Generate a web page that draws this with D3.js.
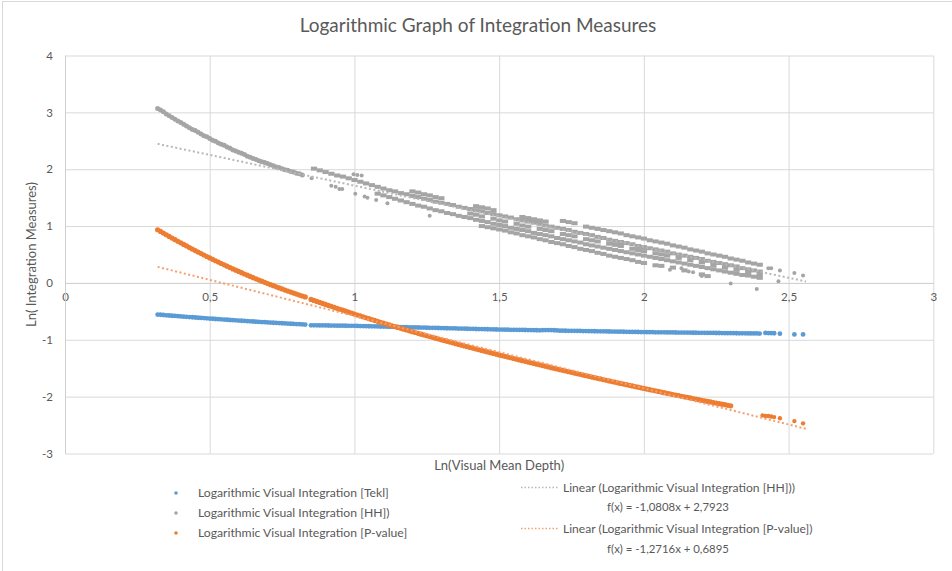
<!DOCTYPE html>
<html>
<head>
<meta charset="utf-8">
<script src="https://cdnjs.cloudflare.com/ajax/libs/d3/7.8.5/d3.min.js"></script>
<style>
body { margin: 0; background: #fff; }
text { font-family: Lato, "Open Sans", sans-serif; fill: #595959; }
</style>
</head>
<body>
<div id="scatter"></div>
<script>
// tick values
var xTicks = [0, 0.5, 1, 1.5, 2, 2.5, 3];
var yTicks = [-3, -2, -1, 0, 1, 2, 3, 4];

// Logarithmic Visual Integration [Tekl]  (blue)
var teklA = [[0.32,-0.556],[0.33,-0.560],[0.34,-0.564],[0.35,-0.569],[0.36,-0.573],[0.37,-0.577],[0.38,-0.581],[0.39,-0.585],[0.40,-0.589],[0.41,-0.593],[0.42,-0.597],[0.43,-0.600],[0.44,-0.604],[0.45,-0.608],[0.46,-0.612],[0.47,-0.616],[0.48,-0.619],[0.49,-0.623],[0.50,-0.627],[0.51,-0.630],[0.52,-0.634],[0.53,-0.638],[0.54,-0.641],[0.55,-0.645],[0.56,-0.648],[0.57,-0.652],[0.58,-0.655],[0.59,-0.658],[0.60,-0.662],[0.61,-0.665],[0.62,-0.668],[0.63,-0.672],[0.64,-0.675],[0.65,-0.678],[0.66,-0.681],[0.67,-0.685],[0.68,-0.688],[0.69,-0.691],[0.70,-0.694],[0.71,-0.697],[0.72,-0.700],[0.73,-0.703],[0.74,-0.706],[0.75,-0.709],[0.76,-0.712],[0.77,-0.715],[0.78,-0.718],[0.79,-0.721],[0.80,-0.723],[0.81,-0.726],[0.82,-0.729],[0.83,-0.732]];
var teklB = [[0.85,-0.745],[0.86,-0.746],[0.87,-0.746],[0.88,-0.747],[0.89,-0.748],[0.90,-0.748],[0.91,-0.749],[0.92,-0.750],[0.93,-0.750],[0.94,-0.751],[0.95,-0.752],[0.96,-0.752],[0.97,-0.753],[0.98,-0.754],[0.99,-0.754],[1.00,-0.755],
  [1.01,-0.756],[1.02,-0.758],[1.03,-0.759],[1.04,-0.760],[1.05,-0.762],[1.06,-0.763],[1.07,-0.764],[1.08,-0.765],[1.09,-0.767],[1.10,-0.768],[1.11,-0.769],[1.12,-0.771],[1.13,-0.772],[1.14,-0.773],[1.15,-0.775],[1.16,-0.776],[1.17,-0.777],[1.18,-0.778],[1.19,-0.780],[1.20,-0.781],
  [1.21,-0.782],[1.22,-0.784],[1.23,-0.785],[1.24,-0.786],[1.25,-0.788],[1.26,-0.789],[1.27,-0.790],[1.28,-0.791],[1.29,-0.793],[1.30,-0.794],[1.31,-0.795],[1.32,-0.797],[1.33,-0.798],[1.34,-0.799],[1.35,-0.801],[1.36,-0.802],[1.37,-0.803],[1.38,-0.804],[1.39,-0.806],[1.40,-0.807],
  [1.41,-0.808],[1.42,-0.810],[1.43,-0.811],[1.44,-0.812],[1.45,-0.814],[1.46,-0.815],[1.47,-0.816],[1.48,-0.817],[1.49,-0.819],[1.50,-0.820],[1.51,-0.821],[1.52,-0.822],[1.53,-0.823],[1.54,-0.824],[1.55,-0.825],[1.56,-0.825],[1.57,-0.826],[1.58,-0.827],[1.59,-0.828],[1.60,-0.829],
  [1.61,-0.830],[1.62,-0.831],[1.63,-0.832],[1.64,-0.833],[1.65,-0.831],[1.66,-0.830],[1.67,-0.829],[1.68,-0.830],[1.69,-0.832],[1.70,-0.835],[1.71,-0.839],[1.72,-0.840],[1.73,-0.841],[1.74,-0.842],[1.75,-0.843],[1.76,-0.843],[1.77,-0.844],[1.78,-0.845],[1.79,-0.846],[1.80,-0.847],
  [1.81,-0.848],[1.82,-0.849],[1.83,-0.850],[1.84,-0.851],[1.85,-0.852],[1.86,-0.852],[1.87,-0.853],[1.88,-0.854],[1.89,-0.855],[1.90,-0.856],[1.91,-0.857],[1.92,-0.858],[1.93,-0.859],[1.94,-0.860],[1.95,-0.861],[1.96,-0.861],[1.97,-0.862],[1.98,-0.863],[1.99,-0.864],[2.00,-0.865],
  [2.01,-0.866],[2.02,-0.866],[2.03,-0.867],[2.04,-0.868],[2.05,-0.868],[2.06,-0.869],[2.07,-0.869],[2.08,-0.870],[2.09,-0.871],[2.10,-0.871],[2.11,-0.872],[2.12,-0.873],[2.13,-0.873],[2.14,-0.874],[2.15,-0.874],[2.16,-0.875],[2.17,-0.876],[2.18,-0.876],[2.19,-0.877],[2.20,-0.878],
  [2.21,-0.878],[2.22,-0.879],[2.23,-0.879],[2.24,-0.880],[2.25,-0.881],[2.26,-0.881],[2.27,-0.882],[2.28,-0.883],[2.29,-0.883],[2.30,-0.884],[2.31,-0.884],[2.32,-0.885],[2.33,-0.886],[2.34,-0.886],[2.35,-0.887],[2.36,-0.888],[2.37,-0.888],[2.38,-0.889],[2.39,-0.889],[2.40,-0.890]];
var teklEnd = [[2.42,-0.880],[2.43,-0.882],[2.44,-0.884],[2.45,-0.885],[2.47,-0.893],[2.52,-0.905],[2.55,-0.905]];

// Logarithmic Visual Integration [HH]  (grey)
var hhA = [[0.32,3.07],[0.33,3.04],[0.34,3.01],[0.35,2.97],[0.36,2.94],[0.37,2.91],[0.38,2.88],[0.39,2.85],[0.40,2.82],[0.41,2.79],[0.42,2.76],[0.43,2.73],[0.44,2.70],[0.45,2.68],[0.46,2.65],[0.47,2.62],[0.48,2.59],[0.49,2.57],[0.50,2.54],[0.51,2.51],[0.52,2.49],[0.53,2.46],[0.54,2.44],[0.55,2.42],[0.56,2.39],[0.57,2.37],[0.58,2.34],[0.59,2.32],[0.60,2.30],[0.61,2.28],[0.62,2.26],[0.63,2.23],[0.64,2.21],[0.65,2.19],[0.66,2.17],[0.67,2.15],[0.68,2.13],[0.69,2.12],[0.70,2.10],[0.71,2.08],[0.72,2.06],[0.73,2.04],[0.74,2.03],[0.75,2.01],[0.76,1.99],[0.77,1.98],[0.78,1.96],[0.79,1.95],[0.80,1.93],[0.81,1.92],[0.82,1.90]];
var hhMain = [[0.86,2.01],[0.88,1.98],[0.90,1.95],[0.92,1.92],[0.94,1.89],[0.96,1.87],[0.98,1.84],[1.00,1.81],[1.02,1.78],[1.04,1.75],[1.06,1.72],[1.08,1.69],[1.10,1.66],[1.12,1.63],[1.14,1.61],[1.16,1.58],[1.18,1.56],[1.20,1.53],[1.22,1.51],[1.24,1.48],[1.26,1.46],[1.28,1.43],[1.30,1.41],[1.32,1.39],[1.34,1.37],[1.36,1.34],[1.38,1.32],[1.40,1.30],[1.42,1.28],[1.44,1.26],[1.46,1.23],[1.48,1.21],[1.50,1.19],[1.52,1.17],[1.54,1.15],[1.56,1.12],[1.58,1.10],[1.60,1.08],[1.62,1.06],[1.64,1.04],[1.66,1.01],[1.68,0.99],[1.70,0.97],[1.72,0.95],[1.74,0.93],[1.76,0.90],[1.78,0.88],[1.80,0.86],[1.82,0.84],[1.84,0.81],[1.86,0.79],[1.88,0.76],[1.90,0.74],[1.92,0.72],[1.94,0.70],[1.96,0.68],[1.98,0.65],[2.00,0.63],[2.02,0.61],[2.04,0.59],[2.06,0.57],[2.08,0.55],[2.10,0.52],[2.12,0.50],[2.14,0.48],[2.16,0.46],[2.18,0.44],[2.20,0.42],[2.22,0.39],[2.24,0.37],[2.26,0.35],[2.28,0.33],[2.30,0.31],[2.32,0.29],[2.34,0.26],[2.36,0.24],[2.38,0.22],[2.40,0.20]];
var hhUpper = [[1.20,1.61],[1.22,1.59],[1.24,1.56],[1.26,1.54],[1.28,1.51],[1.30,1.49],[1.42,1.35],[1.44,1.33],[1.46,1.31],[1.48,1.28],[1.58,1.16],[1.60,1.14],[1.62,1.12],[1.64,1.10],[1.66,1.08],[1.72,1.09],[1.74,1.07],[1.76,1.05],[1.80,0.99],[1.82,0.97],[1.84,0.95],[1.86,0.93],[1.88,0.91],[1.90,0.89],[1.92,0.87],[1.94,0.84],[1.96,0.82],[1.98,0.80],[2.00,0.78],[2.02,0.75],[2.04,0.73],[2.06,0.71],[2.08,0.69],[2.10,0.66],[2.12,0.64],[2.14,0.62],[2.16,0.59],[2.18,0.57],[2.20,0.55],[2.22,0.52],[2.24,0.50],[2.26,0.48],[2.28,0.46],[2.30,0.43],[2.32,0.41],[2.34,0.39],[2.36,0.36],[2.38,0.34],[2.40,0.32]];
var hhMid = [[1.40,1.22],[1.42,1.20],[1.44,1.17],[1.48,1.13],[1.50,1.10],[1.52,1.08],[1.56,1.04],[1.58,1.01],[1.60,0.99],[1.64,0.95],[1.66,0.93],[1.68,0.91],[1.72,0.86],[1.74,0.84],[1.76,0.82],[1.80,0.77],[1.82,0.75],[1.84,0.73],[1.88,0.69],[1.90,0.67],[1.92,0.65],[1.96,0.60],[1.98,0.58],[2.00,0.56],[2.04,0.52],[2.06,0.50],[2.08,0.48],[2.12,0.44],[2.16,0.40],[2.20,0.36],[2.24,0.31],[2.28,0.27],[2.32,0.23],[2.36,0.19],[2.40,0.15]];
var hhLower = [[1.08,1.57],[1.10,1.54],[1.12,1.51],[1.14,1.48],[1.16,1.45],[1.18,1.42],[1.20,1.39],[1.22,1.36],[1.24,1.34],[1.26,1.31],[1.28,1.28],[1.30,1.26],[1.32,1.23],[1.34,1.21],[1.36,1.18],[1.38,1.16],[1.40,1.14],[1.42,1.11],[1.44,1.09],[1.46,1.07],[1.48,1.04],[1.50,1.02],[1.52,1.00],[1.54,0.97],[1.56,0.95],[1.58,0.93],[1.60,0.91],[1.62,0.88],[1.64,0.86],[1.66,0.84],[1.68,0.82],[1.70,0.79],[1.72,0.77],[1.74,0.75],[1.76,0.73],[1.78,0.71],[1.80,0.68],[1.82,0.66],[1.84,0.64],[1.86,0.62],[1.88,0.60],[1.90,0.58],[1.92,0.56],[1.94,0.54],[1.96,0.52],[1.98,0.50],[2.00,0.48],[2.02,0.46],[2.04,0.44],[2.06,0.42],[2.08,0.40],[2.10,0.38],[2.12,0.36],[2.14,0.34],[2.16,0.32],[2.18,0.30],[2.20,0.28],[2.22,0.26],[2.24,0.24],[2.26,0.22],[2.28,0.20],[2.30,0.18],[2.32,0.16],[2.34,0.14],[2.36,0.13],[2.38,0.11],[2.40,0.09]];
var hhLowest = [[1.44,1.00],[1.46,0.98],[1.48,0.96],[1.50,0.94],[1.52,0.92],[1.54,0.89],[1.56,0.87],[1.58,0.84],[1.60,0.82],[1.62,0.80],[1.64,0.77],[1.66,0.75],[1.68,0.72],[1.70,0.70],[1.72,0.68],[1.74,0.65],[1.76,0.63],[1.78,0.60],[1.80,0.58],[1.82,0.56],[1.84,0.53],[1.86,0.51],[1.88,0.48],[1.90,0.46],[1.92,0.44],[1.94,0.42],[1.96,0.40],[1.98,0.37],[2.00,0.35],[2.04,0.31],[2.06,0.30],[2.10,0.27],[2.14,0.22],[2.20,0.15],[2.22,0.12]];
var hhStray = [[0.852,1.84],[0.92,1.71],[0.935,1.69],[0.948,1.65],[0.958,1.65],[0.997,1.91],[1.01,1.90],[1.025,1.89],[1.003,1.57],[1.035,1.52],[1.045,1.50],[1.075,1.46],[1.114,1.40],[1.26,1.18],[2.09,0.23],[2.13,0.26],[2.155,0.20],[2.17,0.19],[2.20,0.12],[2.30,-0.01],[2.39,-0.105],[2.465,0.03],[2.43,0.26],[2.44,0.26],[2.47,0.22],[2.52,0.175],[2.55,0.13]];

// Logarithmic Visual Integration [P-value]  (orange)
var pvalA = [[0.32,0.935],[0.33,0.905],[0.34,0.876],[0.35,0.847],[0.36,0.818],[0.37,0.789],[0.38,0.760],[0.39,0.732],[0.40,0.705],[0.41,0.677],[0.42,0.650],[0.43,0.622],[0.44,0.596],[0.45,0.569],[0.46,0.543],[0.47,0.517],[0.48,0.491],[0.49,0.465],[0.50,0.440],[0.51,0.415],[0.52,0.390],[0.53,0.366],[0.54,0.342],[0.55,0.318],[0.56,0.294],[0.57,0.271],[0.58,0.247],[0.59,0.224],[0.60,0.202],[0.61,0.180],[0.62,0.157],[0.63,0.136],[0.64,0.114],[0.65,0.093],[0.66,0.072],[0.67,0.051],[0.68,0.030],[0.69,0.010],[0.70,-0.010],[0.71,-0.030],[0.72,-0.049],[0.73,-0.069],[0.74,-0.088],[0.75,-0.106],[0.76,-0.125],[0.77,-0.143],[0.78,-0.161],[0.79,-0.178],[0.80,-0.196],[0.81,-0.213],[0.82,-0.230],[0.83,-0.246]];
var pvalB = [[0.85,-0.290],[0.86,-0.308],[0.87,-0.325],[0.88,-0.343],[0.89,-0.360],[0.90,-0.378],[0.91,-0.395],[0.92,-0.412],[0.93,-0.429],[0.94,-0.446],[0.95,-0.463],[0.96,-0.480],[0.97,-0.497],[0.98,-0.514],[0.99,-0.531],[1.00,-0.548],
  [1.01,-0.564],[1.02,-0.580],[1.03,-0.596],[1.04,-0.612],[1.05,-0.628],[1.06,-0.644],[1.07,-0.660],[1.08,-0.676],[1.09,-0.692],[1.10,-0.708],[1.11,-0.723],[1.12,-0.738],[1.13,-0.753],[1.14,-0.768],[1.15,-0.783],[1.16,-0.798],[1.17,-0.813],[1.18,-0.828],[1.19,-0.843],[1.20,-0.858],
  [1.21,-0.872],[1.22,-0.886],[1.23,-0.901],[1.24,-0.915],[1.25,-0.929],[1.26,-0.943],[1.27,-0.957],[1.28,-0.972],[1.29,-0.986],[1.30,-1.000],[1.31,-1.014],[1.32,-1.027],[1.33,-1.041],[1.34,-1.054],[1.35,-1.068],[1.36,-1.082],[1.37,-1.095],[1.38,-1.109],[1.39,-1.122],[1.40,-1.136],
  [1.41,-1.149],[1.42,-1.162],[1.43,-1.175],[1.44,-1.188],[1.45,-1.201],[1.46,-1.214],[1.47,-1.227],[1.48,-1.240],[1.49,-1.253],[1.50,-1.266],[1.51,-1.279],[1.52,-1.291],[1.53,-1.304],[1.54,-1.316],[1.55,-1.329],[1.56,-1.342],[1.57,-1.354],[1.58,-1.367],[1.59,-1.379],[1.60,-1.392],
  [1.61,-1.404],[1.62,-1.416],[1.63,-1.429],[1.64,-1.441],[1.65,-1.453],[1.66,-1.465],[1.67,-1.477],[1.68,-1.490],[1.69,-1.502],[1.70,-1.514],[1.71,-1.526],[1.72,-1.538],[1.73,-1.549],[1.74,-1.561],[1.75,-1.573],[1.76,-1.585],[1.77,-1.597],[1.78,-1.608],[1.79,-1.620],[1.80,-1.632],
  [1.81,-1.643],[1.82,-1.655],[1.83,-1.666],[1.84,-1.678],[1.85,-1.689],[1.86,-1.700],[1.87,-1.712],[1.88,-1.723],[1.89,-1.735],[1.90,-1.746],[1.91,-1.757],[1.92,-1.768],[1.93,-1.779],[1.94,-1.790],[1.95,-1.801],[1.96,-1.812],[1.97,-1.823],[1.98,-1.834],[1.99,-1.845],[2.00,-1.856],
  [2.01,-1.867],[2.02,-1.877],[2.03,-1.888],[2.04,-1.898],[2.05,-1.909],[2.06,-1.920],[2.07,-1.930],[2.08,-1.941],[2.09,-1.951],[2.10,-1.962],[2.11,-1.972],[2.12,-1.982],[2.13,-1.993],[2.14,-2.003],[2.15,-2.013],[2.16,-2.023],[2.17,-2.033],[2.18,-2.044],[2.19,-2.054],[2.20,-2.064],
  [2.21,-2.074],[2.22,-2.084],[2.23,-2.093],[2.24,-2.103],[2.25,-2.113],[2.26,-2.123],[2.27,-2.133],[2.28,-2.142],[2.29,-2.152],[2.30,-2.162]];
var pvalEnd = [[2.41,-2.33],[2.42,-2.34],[2.43,-2.34],[2.44,-2.35],[2.45,-2.36],[2.47,-2.38],[2.52,-2.43],[2.55,-2.47]];

// linear trend lines (slope, intercept) from the legend equations, and their x extent
var hhTrend = [-1.0808, 2.7923];
var pvalTrend = [-1.2716, 0.6895];
var trendExtent = [0.32, 2.56];

var legendSeries = ["Logarithmic Visual Integration [Tekl]", "Logarithmic Visual Integration [HH])", "Logarithmic Visual Integration [P-value]"];
var legendTrends = ["Linear (Logarithmic Visual Integration [HH]))", "Linear (Logarithmic Visual Integration [P-value])"];
var legendEquations = ["f(x) = -1,0808x + 2,7923", "f(x) = -1,2716x + 0,6895"];

var colors = { tekl: "#5B9BD5", hh: "#A5A5A5", pval: "#ED7D31" };

var svgWidth = 952;
var svgHeight = 571;
var margin = { top: 55.5, right: 18.7, bottom: 117.5, left: 65 };
var width = svgWidth - margin.left - margin.right;
var height = svgHeight - margin.top - margin.bottom;

var svg = d3.select("#scatter")
  .append("svg")
  .attr("width", svgWidth)
  .attr("height", svgHeight);

// chart border
svg.append("rect")
  .attr("x", 2.5).attr("y", 1.5)
  .attr("width", 970).attr("height", 600)
  .attr("fill", "none")
  .attr("stroke", "#D9D9D9");

var chartGroup = svg.append("g")
  .attr("transform", `translate(${margin.left}, ${margin.top})`);

var x = d3.scaleLinear().domain([0, 3]).range([0, width]);
var y = d3.scaleLinear().domain([-3, 4]).range([height, 0]);

function fmt(d) { return String(d).replace(".", ","); }

// Step 1: gridlines
chartGroup.append("g")
  .attr("class", "grid")
  .call(d3.axisLeft(y).tickValues(yTicks).tickSize(-width).tickFormat(""));
chartGroup.append("g")
  .attr("class", "grid")
  .attr("transform", `translate(0, ${height})`)
  .call(d3.axisBottom(x).tickValues(xTicks).tickSize(-height).tickFormat(""));
chartGroup.selectAll(".grid .domain").remove();
chartGroup.selectAll(".grid line").attr("stroke", "#D9D9D9").attr("stroke-width", 1);

// Step 2: axes crossing at 0
var xAxis = chartGroup.append("g")
  .attr("transform", `translate(0, ${y(0)})`)
  .call(d3.axisBottom(x).tickValues(xTicks).tickSize(0).tickPadding(10).tickFormat(fmt));
var yAxis = chartGroup.append("g")
  .call(d3.axisLeft(y).tickValues(yTicks).tickSize(0).tickPadding(12).tickFormat(fmt));
xAxis.select(".domain").attr("stroke", "#D0D0D0");
yAxis.select(".domain").attr("stroke", "#D0D0D0");
chartGroup.selectAll(".tick text")
  .attr("fill", "#595959")
  .style("font-size", "11.5px")
  .style("font-family", "Lato, 'Open Sans', sans-serif");

// Step 3: markers
function drawSeries(data, color, r) {
  chartGroup.append("g").selectAll("circle")
    .data(data)
    .enter()
    .append("circle")
    .attr("cx", d => x(d[0]))
    .attr("cy", d => y(d[1]))
    .attr("r", r)
    .attr("fill", color);
}
// the crowded HH part shows up as short square-ish dashes
function drawDashes(data, color) {
  chartGroup.append("g").selectAll("rect")
    .data(data)
    .enter()
    .append("rect")
    .attr("x", d => x(d[0]) - 3)
    .attr("y", d => y(d[1]) - 2)
    .attr("width", 6.2)
    .attr("height", 4)
    .attr("fill", color);
}
[teklA, teklB, teklEnd].forEach(s => drawSeries(s, colors.tekl, 2.4));
drawSeries(hhA, colors.hh, 2.5);
[hhMain, hhUpper, hhMid, hhLower, hhLowest].forEach(s => drawDashes(s, colors.hh));
drawSeries(hhStray, colors.hh, 2);
[pvalA, pvalB].forEach(s => drawSeries(s, colors.pval, 2.6));
drawSeries(pvalEnd, colors.pval, 2.2);

// Step 4: dotted trend lines
function drawTrend(coef, color) {
  chartGroup.append("line")
    .attr("x1", x(trendExtent[0])).attr("y1", y(coef[0] * trendExtent[0] + coef[1]))
    .attr("x2", x(trendExtent[1])).attr("y2", y(coef[0] * trendExtent[1] + coef[1]))
    .attr("stroke", color)
    .attr("stroke-width", 2)
    .attr("stroke-dasharray", "2,2.5");
}
drawTrend(hhTrend, "#B7B7B7");
drawTrend(pvalTrend, "#F4A070");

// Step 5: titles
svg.append("text")
  .attr("x", 478).attr("y", 32)
  .attr("text-anchor", "middle")
  .style("font-size", "19px")
  .text("Logarithmic Graph of Integration Measures");

svg.append("text")
  .attr("x", margin.left + width / 2).attr("y", 470)
  .attr("text-anchor", "middle")
  .style("font-size", "13px")
  .text("Ln(Visual Mean Depth)");

svg.append("text")
  .attr("transform", "rotate(-90)")
  .attr("x", -(margin.top + height / 2)).attr("y", 36)
  .attr("text-anchor", "middle")
  .style("font-size", "13px")
  .text("Ln( Integration Measures)");

// Step 6: legend
var legendColors = [colors.tekl, colors.hh, colors.pval];
legendSeries.forEach(function(label, i) {
  svg.append("circle")
    .attr("cx", 176).attr("cy", 493 + i * 20)
    .attr("r", 1.8)
    .attr("fill", legendColors[i]);
  svg.append("text")
    .attr("x", 198).attr("y", 497 + i * 20)
    .style("font-size", "12.2px")
    .text(label);
});

var trendColors = ["#B7B7B7", "#F4A070"];
legendTrends.forEach(function(label, i) {
  svg.append("line")
    .attr("x1", 521).attr("x2", 558)
    .attr("y1", 487.5 + i * 41).attr("y2", 487.5 + i * 41)
    .attr("stroke", trendColors[i])
    .attr("stroke-width", 1.5)
    .attr("stroke-dasharray", "1.5,2");
  svg.append("text")
    .attr("x", 563).attr("y", 491.5 + i * 41)
    .style("font-size", "12.1px")
    .text(label);
  svg.append("text")
    .attr("x", 668).attr("y", 511 + i * 42)
    .attr("text-anchor", "middle")
    .style("font-size", "11.4px")
    .text(legendEquations[i]);
});
</script>
</body>
</html>
